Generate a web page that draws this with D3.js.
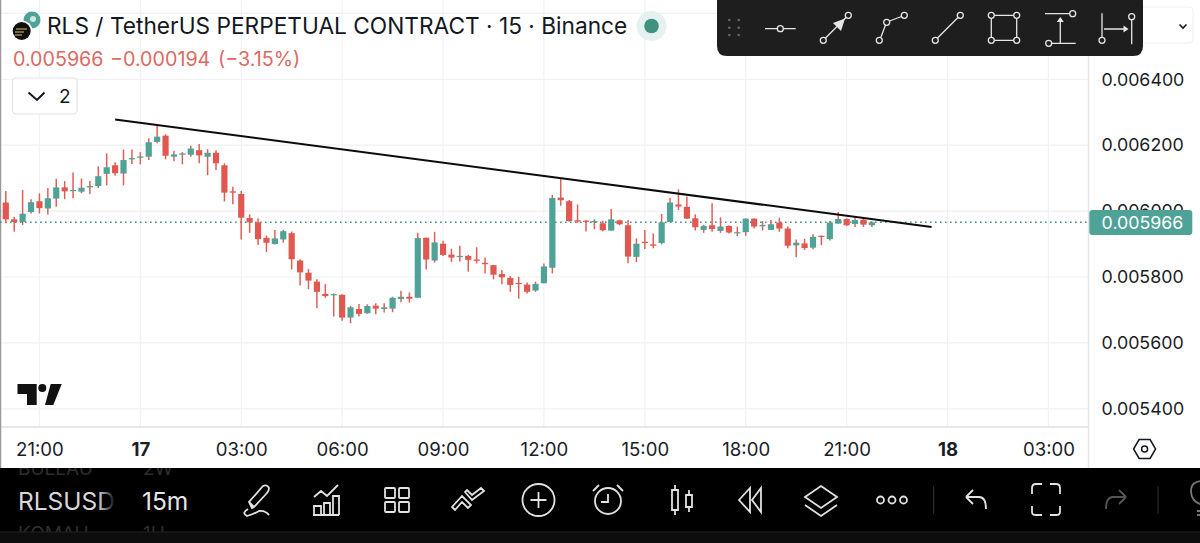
<!DOCTYPE html>
<html>
<head>
<meta charset="utf-8">
<script src="https://cdn.jsdelivr.net/npm/d3@7"></script>
<style>
  html, body { margin: 0; padding: 0; background: #fff; overflow: hidden; }
  svg { display: block; }
  text { font-family: Inter, "Noto Sans", sans-serif; }
</style>
</head>
<body>
<div id="chart"></div>
<script>
// prices in millionths, one entry per 15m bar, first bar is 20:00
const opens = [6026,5975,5967,5997,6030,6008,6038,6072,6061,6059,6072,6076,6113,6139,6114,6157,6162,6165,6210,6229,6165,6171,6171,6185,6165,6177,6139,6060,6052,
  5979,5966,5919,5900,5914,5933,5850,5813,5786,5749,5745,5746,5677,5703,5690,5713,5703,5704,5733,5740,5737,5919,5850,5901,5868,5861,5864,5853,5843,5836,5809,5797,5782,5777,
  5759,5781,5828,6041,6030,5972,5971,5966,5963,5941,5972,5957,5861,5907,5899,5903,5967,6020,6013,5978,5943,5957,5940,5955,5933,5936,5977,5954,5943,5965,5947,5896,5902,5889,5925,5915,5962,5976,5961,5974,5957]
const closes = [5975,5967,5992,6027,6009,6039,6072,6060,6064,6071,6076,6106,6133,6115,6155,6161,6166,6209,6226,6168,6172,6175,6190,6169,6177,6145,6056,6056,5980,
  5966,5915,5904,5917,5939,5854,5814,5789,5755,5742,5748,5677,5708,5688,5712,5704,5708,5737,5740,5734,5918,5853,5905,5867,5859,5864,5852,5849,5839,5807,5799,5776,5779,5755,
  5779,5832,6040,6033,5970,5968,5968,5970,5942,5975,5960,5862,5901,5903,5895,5966,6026,6014,5977,5951,5955,5946,5953,5935,5936,5977,5953,5958,5960,5947,5895,5904,5888,5922,5922,5965,5976,5957,5973,5959,5966]
const highs = [6061,5983,6064,6036,6054,6070,6098,6091,6117,6099,6091,6136,6175,6148,6187,6187,6179,6221,6258,6233,6183,6179,6198,6204,6188,6185,6145,6074,6061,
  5990,5978,5926,5943,5943,5938,5854,5824,5793,5778,5750,5748,5712,5718,5717,5720,5720,5740,5758,5753,5934,5920,5937,5910,5886,5895,5867,5890,5859,5837,5821,5803,5801,5783,
  5786,5841,6049,6099,6034,6020,5973,5975,5971,6006,5974,5973,5917,5943,5932,5991,6040,6066,6044,5990,5958,6024,5981,5956,5953,5978,5978,5970,5973,5980,5953,5914,5916,5930,5926,5970,5997,5978,5980,5977,5969]
const lows = [5963,5937,5958,5993,5993,5990,6013,6036,6039,6054,6052,6070,6078,6107,6078,6143,6142,6155,6206,6157,6151,6142,6165,6145,6109,6125,6029,6021,5914,
  5934,5897,5876,5899,5904,5823,5774,5763,5705,5737,5680,5667,5660,5680,5688,5687,5692,5693,5723,5722,5737,5823,5844,5864,5846,5847,5816,5841,5811,5793,5778,5755,5734,5750,
  5755,5781,5811,6016,5968,5965,5938,5945,5939,5940,5957,5842,5845,5885,5887,5899,5966,6003,5976,5941,5934,5937,5934,5932,5924,5925,5947,5941,5943,5937,5887,5860,5882,5884,5897,5911,5962,5955,5952,5952,5952]

const priceUnit = 1e-6
const lastPrice = 0.005966
const priceTicks = [0.0064, 0.0062, 0.006, 0.0058, 0.0056, 0.0054]
const gridPrices = [0.0066, 0.0064, 0.0062, 0.006, 0.0058, 0.0056, 0.0054]
const timeBars = [4, 16, 28, 40, 52, 64, 76, 88, 100, 112, 124]
const timeLabels = ["21:00", "17", "03:00", "06:00", "09:00", "12:00", "15:00", "18:00", "21:00", "18", "03:00"]
const dayLabels = ["17", "18"]
// trend line ends: bar index, price
const trendBars = [13, 110.1]
const trendPrices = [0.006278, 0.005952]

const bottomIconXs = [257, 326, 397, 468, 538.5, 608, 681, 750, 821, 892, 975, 1046, 1117]

const width = 1200, height = 543
const plotRight = 1088.5, plotBottom = 427, bandTop = 468
const up = "#4ea396", down = "#e0584f", wick = "#de5f56"

const x = d3.scaleLinear().domain([0, 12]).range([5.8, 106.7])
const y = d3.scaleLinear().domain([0.0064, 0.0054]).range([79.3, 408.8])

const svg = d3.select("#chart").append("svg").attr("width", width).attr("height", height)

svg.append("defs").append("clipPath").attr("id", "barClip")
  .append("rect").attr("x", 0).attr("y", bandTop).attr("width", width).attr("height", 532 - bandTop)
const fade = svg.select("defs").append("linearGradient").attr("id", "nameFade")
fade.append("stop").attr("offset", 0).attr("stop-color", "#000").attr("stop-opacity", 0)
fade.append("stop").attr("offset", 1).attr("stop-color", "#000").attr("stop-opacity", 1)

// grid
svg.append("g").selectAll("line").data(timeBars).join("line")
  .attr("x1", d => x(d)).attr("x2", d => x(d)).attr("y1", 0).attr("y2", plotBottom)
  .attr("stroke", "#f0f1f4").attr("stroke-width", 1.2)
svg.append("g").selectAll("line").data(gridPrices).join("line")
  .attr("x1", 0).attr("x2", plotRight).attr("y1", d => y(d)).attr("y2", d => y(d))
  .attr("stroke", "#f0f1f4").attr("stroke-width", 1.2)

// axis borders
svg.append("line").attr("x1", 0).attr("x2", plotRight).attr("y1", plotBottom).attr("y2", plotBottom).attr("stroke", "#dfe1e6").attr("stroke-width", 1.4)
svg.append("line").attr("x1", plotRight).attr("x2", plotRight).attr("y1", 0).attr("y2", bandTop).attr("stroke", "#e3e4e8").attr("stroke-width", 1.4)
svg.append("line").attr("x1", 0.5).attr("x2", 0.5).attr("y1", 0).attr("y2", bandTop).attr("stroke", "#9a9a9a").attr("stroke-width", 1.5)

// last price dotted line
svg.append("line").attr("x1", 0).attr("x2", plotRight).attr("y1", y(lastPrice)).attr("y2", y(lastPrice))
  .attr("stroke", "#3f9588").attr("stroke-width", 1.6).attr("stroke-dasharray", "1.6 3.4")

// candles
const candles = svg.append("g").selectAll("g").data(opens).join("g")
candles.append("line")
  .attr("x1", (d, i) => x(i)).attr("x2", (d, i) => x(i))
  .attr("y1", (d, i) => y(highs[i] * priceUnit)).attr("y2", (d, i) => y(lows[i] * priceUnit))
  .attr("stroke", wick).attr("stroke-width", 1.5)
candles.append("rect")
  .attr("x", (d, i) => x(i) - 3.1).attr("width", 6.2)
  .attr("y", (d, i) => y(Math.max(opens[i], closes[i]) * priceUnit))
  .attr("height", (d, i) => Math.max(1.2, y(Math.min(opens[i], closes[i]) * priceUnit) - y(Math.max(opens[i], closes[i]) * priceUnit)))
  .attr("fill", (d, i) => closes[i] >= opens[i] ? up : down)

// trend line
svg.append("line")
  .attr("x1", x(trendBars[0])).attr("y1", y(trendPrices[0]))
  .attr("x2", x(trendBars[1])).attr("y2", y(trendPrices[1]))
  .attr("stroke", "#0c0c0c").attr("stroke-width", 2)

// price axis
const priceAxis = svg.append("g").attr("transform", `translate(${plotRight},0)`)
  .call(d3.axisRight(y).tickValues(priceTicks).tickFormat(d3.format(".6f")).tickSize(0).tickPadding(13))
priceAxis.select(".domain").remove()
priceAxis.selectAll("text").attr("font-size", 17.8).attr("fill", "#1a1d26").style("font-family", "Inter")

// last price tag
svg.append("rect").attr("x", 1089.3).attr("y", 210).attr("width", 103).attr("height", 25).attr("rx", 3).attr("fill", "#4fa396")
svg.append("text").attr("x", 1142.5).attr("y", 229).attr("text-anchor", "middle").attr("font-size", 17.8).attr("fill", "#fff").text(d3.format(".6f")(lastPrice))

// time axis
const timeAxis = svg.append("g").attr("transform", `translate(0,${plotBottom})`)
  .call(d3.axisBottom(x).tickValues(timeBars).tickFormat((d, i) => timeLabels[i]).tickSize(0).tickPadding(15.5))
timeAxis.select(".domain").remove()
timeAxis.selectAll("text")
  .attr("font-size", 18.6).attr("fill", "#1a1d26").style("font-family", "Inter")
  .attr("font-weight", function() { return dayLabels.includes(this.textContent) ? 700 : 400 })

// header
svg.append("circle").attr("cx", 32).attr("cy", 20).attr("r", 8.5).attr("fill", "#4ea396")
svg.append("circle").attr("cx", 33).attr("cy", 19).attr("r", 3).attr("fill", "#cfe6e2")
svg.append("circle").attr("cx", 22).attr("cy", 31).attr("r", 10.5).attr("fill", "#fff")
svg.append("circle").attr("cx", 21.7).attr("cy", 31).attr("r", 9).attr("fill", "#0f0f10")
svg.append("path").attr("d", "M16 29 h11 M15 32 h9 M15 35 h7").attr("stroke", "#d9c76a").attr("stroke-width", 1.1).attr("fill", "none")

svg.append("text").attr("x", 47).attr("y", 34).attr("font-size", 22.7).attr("fill", "#131722")
  .text("RLS / TetherUS PERPETUAL CONTRACT · 15 · Binance")
svg.append("circle").attr("cx", 651.5).attr("cy", 26).attr("r", 15).attr("fill", "#e4f1ef")
svg.append("circle").attr("cx", 651.5).attr("cy", 26).attr("r", 7.3).attr("fill", "#41917f")
svg.append("g").selectAll("text").data([[13, "0.005966"], [110, "−0.000194"], [218, "(−3.15%)"]]).join("text")
  .attr("x", d => d[0]).attr("y", 66).attr("font-size", 19.7).attr("fill", "#dc6a63").text(d => d[1])

svg.append("rect").attr("x", 12.5).attr("y", 78).attr("width", 64.5).attr("height", 36).attr("rx", 4)
  .attr("fill", "#fff").attr("stroke", "#e0e3e8").attr("stroke-width", 1.2)
svg.append("path").attr("d", "M28.5 92.5 L37 100 L44.5 92.5").attr("fill", "none").attr("stroke", "#131722").attr("stroke-width", 2)
svg.append("text").attr("x", 59).attr("y", 103).attr("font-size", 19).attr("fill", "#131722").text("2")

// tradingview mark
svg.append("path").attr("fill", "#111")
  .attr("d", "M17.5 384 H36.7 V405 H27 V394 H17.5 Z M50.7 384 H61.7 L53.3 405 H45 Z")
svg.append("circle").attr("cx", 42.3).attr("cy", 388).attr("r", 4).attr("fill", "#111")

// select box behind toolbar
svg.append("rect").attr("x", 1120).attr("y", 7).attr("width", 73).attr("height", 36).attr("rx", 4).attr("fill", "#fff").attr("stroke", "#eceef1")
svg.append("path").attr("d", "M1179.5 24.5 L1183 28 L1186.5 24.5").attr("fill", "none").attr("stroke", "#131722").attr("stroke-width", 1.6)

// floating drawing toolbar
const tb = svg.append("g")
tb.append("path").attr("d", "M717 0 H1143 V46 Q1143 56 1133 56 H727 Q717 56 717 46 Z").attr("fill", "#1e1e1e")
tb.append("g").selectAll("circle").data(d3.cross([729.3, 738.7], [20, 27.7, 35])).join("circle")
  .attr("cx", d => d[0]).attr("cy", d => d[1]).attr("r", 1.3).attr("fill", "#666")
const ink = "#e6e6e6"
const tbLines = "M765 28.7 H777 M783.5 28.7 H795.7 M825.5 38 L846 17.5 M881 37 L885.5 25 M889.5 21 L901.5 16.5 M937.5 38 L958 17.5 " +
  "M994.5 15.3 H1013.5 M994.5 40.3 H1013.5 M991.3 18.5 V37 M1016.7 18.5 V37 M1045 13.7 H1069.5 M1052 43.3 H1075.7 M1060.3 43.3 V18 " +
  "M1102 13.3 V37 M1131.7 20 V44.3 M1104 29 H1127"
tb.append("path").attr("d", tbLines).attr("fill", "none").attr("stroke", ink).attr("stroke-width", 1.3)
const tbDots = [[780.3,28.7],[823.3,40.3],[848.3,15.3],[879.3,40.3],[886.7,22.3],[904.3,15.3],[935.3,40.3],[960.3,15.3],
  [991.3,15.3],[1016.7,15.3],[991.3,40.3],[1016.7,40.3],[1072.7,13.7],[1048.7,43.3],[1102,40.3],[1131.7,16.7]]
tb.append("g").selectAll("circle").data(tbDots).join("circle")
  .attr("cx", d => d[0]).attr("cy", d => d[1]).attr("r", 3).attr("fill", "none").attr("stroke", ink).attr("stroke-width", 1.3)
tb.append("path").attr("fill", ink).attr("d", "M845 18.5 L833 23 L841 31 Z M1060.3 17 L1056.8 22 H1063.8 Z M1128.5 29 L1123.5 25.5 V32.5 Z")

// bottom app bar
const bar = svg.append("g")
bar.append("rect").attr("x", 0).attr("y", bandTop).attr("width", width).attr("height", height - bandTop).attr("fill", "#000")
const ghost = bar.append("g").attr("clip-path", "url(#barClip)")
ghost.selectAll("text").data([[18, 475, "BULLAU"], [143, 475, "2W"], [18, 540, "KOMAU"], [143, 540, "1H"]]).join("text")
  .attr("x", d => d[0]).attr("y", d => d[1]).attr("font-size", 19).attr("fill", "#2e2e2e").text(d => d[2])
bar.append("rect").attr("x", 0).attr("y", 532).attr("width", width).attr("height", 11).attr("fill", "#0d0d0d")
bar.append("rect").attr("x", 0).attr("y", 531.5).attr("width", width).attr("height", 1).attr("fill", "#222")
bar.append("text").attr("x", 18).attr("y", 510).attr("font-size", 24.5).attr("fill", "#d8d8d8").text("RLSUSD")
bar.append("rect").attr("x", 98).attr("y", 485).attr("width", 18).attr("height", 30).attr("fill", "url(#nameFade)")
bar.append("rect").attr("x", 116).attr("y", 485).attr("width", 20).attr("height", 30).attr("fill", "#000")
bar.append("text").attr("x", 142).attr("y", 510).attr("font-size", 24.5).attr("fill", "#e6e6e6").text("15m")

const iconPaths = [
  "M-5 8 L-8 2 L6 -14 Q10 -16 12 -12 Q12 -9 10 -7 L-3 7 Z M-8 2 L-3 7 M-9 9 Q-16 13 -10 16 Q-3 14 2 11 Q8 10 12 15",
  "M-12 -3 L-5 -9 L1 -4 L12 -15 M-13 15 H13 M-12 15 V6 H-5 V15 M-2 15 V3 H4 V15 M7 15 V-4 H13 V15",
  "M-11 -12 H-3 Q-2 -12 -2 -11 V-3 Q-2 -2 -3 -2 H-11 Q-12 -2 -12 -3 V-11 Q-12 -12 -11 -12 Z M3 -12 H11 Q12 -12 12 -11 V-3 Q12 -2 11 -2 H3 Q2 -2 2 -3 V-11 Q2 -12 3 -12 Z M-11 2 H-3 Q-2 2 -2 3 V11 Q-2 12 -3 12 H-11 Q-12 12 -12 11 V3 Q-12 2 -11 2 Z M3 2 H11 Q12 2 12 3 V11 Q12 12 11 12 H3 Q2 12 2 11 V3 Q2 2 3 2 Z",
  "M-16 7 L-6 -4 L3 5 L0 8 L-6 2 L-13 10 Z M-3 -8 L4 0 L16 -9 L13 -12 L4 -5 L-1 -10 Z",
  "M-16 0 A16 16 0 1 0 16 0 A16 16 0 1 0 -16 0 M-8 0 H8 M0 -8 V8",
  "M-13 1 A13 13 0 1 0 13 1 A13 13 0 1 0 -13 1 M0 -6 V2 H-7 M-15 -9 L-9 -15 M15 -9 L9 -15",
  "M-6 -10 V-15 M-6 10 V15 M-9 -10 H-3 V10 H-9 Z M8 -5 V-10 M8 7 V12 M5 -5 H11 V7 H5 Z",
  "M-11 0 L0 -12 V12 Z M2 0 L11 -12 V12 Z",
  "M0 -14 L16 -3 L0 8 L-16 -3 Z M-16 5 L0 16 L16 5",
  "",
  "M-9 -3 L-2 -10 M-9 -3 L-2 4 M-9 -3 H4 Q11 -3 11 9",
  "M-14 -6 V-12 Q-14 -16 -10 -16 H-4 M4 -16 H10 Q14 -16 14 -12 V-6 M14 6 V12 Q14 15 10 15 H4 M-4 15 H-10 Q-14 15 -14 12 V6",
  "M9 -3 L2 -10 M9 -3 L2 4 M9 -3 H-4 Q-11 -3 -11 9"
]
bar.append("g").selectAll("path").data(bottomIconXs).join("path")
  .attr("transform", d => `translate(${d},500)`)
  .attr("d", (d, i) => iconPaths[i])
  .attr("fill", "none").attr("stroke", (d, i) => i === 12 ? "#555" : "#e2e2e2").attr("stroke-width", 1.8)
bar.append("g").selectAll("circle").data([880.5, 892, 903.5]).join("circle")
  .attr("cx", d => d).attr("cy", 500).attr("r", 3.5).attr("fill", "none").attr("stroke", "#e2e2e2").attr("stroke-width", 1.8)
bar.append("g").selectAll("line").data([933.7, 1158]).join("line")
  .attr("x1", d => d).attr("x2", d => d).attr("y1", 486).attr("y2", 514).attr("stroke", "#333")
bar.append("path").attr("transform", "translate(1193,497)")
  .attr("d", "M10 12 V8 Q-2 5 -2 -6 Q-2 -16 10 -16 M4 14 H10 M4 18 H10")
  .attr("fill", "none").attr("stroke", "#777").attr("stroke-width", 1.8)

// settings hex
svg.append("path").attr("transform", "translate(1144.6,449)")
  .attr("d", "M-11 0 L-5.5 -9.5 H5.5 L11 0 L5.5 9.5 H-5.5 Z M-3 0 A3 3 0 1 0 3 0 A3 3 0 1 0 -3 0")
  .attr("fill", "none").attr("stroke", "#131722").attr("stroke-width", 1.5)
</script>
</body>
</html>
